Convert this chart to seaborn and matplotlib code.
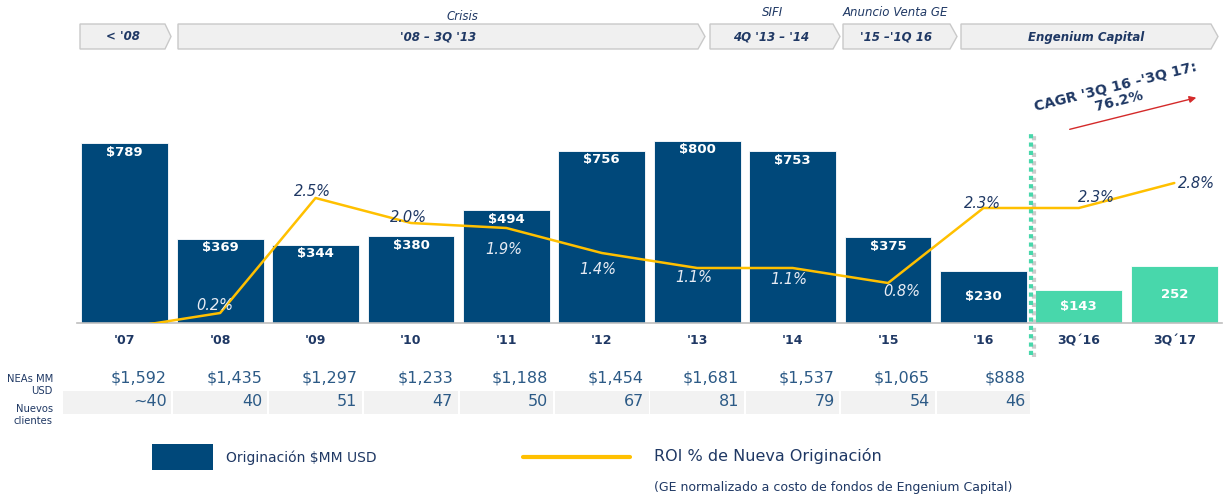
import numpy as np
import pandas as pd
import seaborn as sns
import matplotlib.pyplot as plt
from matplotlib.patches import Polygon, Rectangle, FancyArrowPatch
from matplotlib.lines import Line2D
from matplotlib.transforms import blended_transform_factory

# ---- data ----
periodos = ["'07", "'08", "'09", "'10", "'11", "'12", "'13", "'14", "'15", "'16", "3Q´16", "3Q´17"]
originacion = [789, 369, 344, 380, 494, 756, 800, 753, 375, 230, 143, 252]
etiquetas_orig = ["$789", "$369", "$344", "$380", "$494", "$756", "$800", "$753", "$375", "$230", "$143", "252"]
roi = [-0.1, 0.2, 2.5, 2.0, 1.9, 1.4, 1.1, 1.1, 0.8, 2.3, 2.3, 2.8]
etiquetas_roi = [None, "0.2%", "2.5%", "2.0%", "1.9%", "1.4%", "1.1%", "1.1%", "0.8%", "2.3%", "2.3%", "2.8%"]
neas = ["$1,592", "$1,435", "$1,297", "$1,233", "$1,188", "$1,454", "$1,681", "$1,537", "$1,065", "$888"]
clientes = ["~40", "40", "51", "47", "50", "67", "81", "79", "54", "46"]
etapas = ["< '08", "'08 – 3Q '13", "4Q '13 – '14", "'15 –'1Q 16", "Engenium Capital"]
etapas_titulo = ["", "Crisis", "SIFI", "Anuncio Venta GE", ""]

NAVY = "#00487a"
TEAL = "#48d7ab"
GOLD = "#ffc000"
TXT = "#1f3864"
TBL = "#2c5a86"

sns.set_style("white")
plt.rcParams['font.family'] = ['DejaVu Sans']
plt.rcParams['text.parse_math'] = False

W, H = 1226, 497
fig = plt.figure(figsize=(W / 100, H / 100), dpi=100)

def fx(px):
    return px / W

def fy(py):
    return 1 - py / H

ax = fig.add_axes([fx(77), fy(323), fx(1222) - fx(77), fy(60) - fy(323)])

df = pd.DataFrame({"periodo": periodos, "orig": originacion})
colores = [NAVY] * 10 + [TEAL] * 2
sns.barplot(data=df, x="periodo", y="orig", hue="periodo", palette=colores,
            legend=False, width=0.91, saturation=1, ax=ax,
            edgecolor="white", linewidth=0.6)
ax.set_xlim(-0.5, 11.5)
ax.set_ylim(0, 1153)
ax.set_xlabel("")
ax.set_ylabel("")
ax.set_yticks([])
for s in ["top", "right", "left"]:
    ax.spines[s].set_visible(False)
ax.spines["bottom"].set_color("#bfbfbf")
ax.spines["bottom"].set_linewidth(1.2)
ax.set_xticks(range(len(periodos)))
ax.set_xticklabels(periodos, fontsize=9, fontweight="bold", color=TXT)
ax.set_xticks(np.arange(-0.5, 12, 1), minor=True)
ax.tick_params(axis="x", which="major", length=0, pad=8)
ax.tick_params(axis="x", which="minor", length=4, color="#bfbfbf", width=1.2)

# bar value labels
for i, (v, lab) in enumerate(zip(originacion, etiquetas_orig)):
    if v < 300:
        ax.text(i, v / 2, lab, ha="center", va="center", color="white",
                fontsize=9.5, fontweight="bold")
    else:
        ax.annotate(lab, (i, v), xytext=(0, -9), textcoords="offset pixels",
                    ha="center", va="center", color="white", fontsize=9.5, fontweight="bold")

# ROI line
ax2 = ax.twinx()
sns.lineplot(x=np.arange(len(roi)), y=roi, ax=ax2, color=GOLD, linewidth=1.8)
ax2.set_ylim(0, 5.26)
ax2.set_xlim(-0.5, 11.5)
ax2.axis("off")

desp = [(0, 0), (-5, 8), (-3, 7), (-3, 6), (-3, -21), (-4, -16), (-3, -9),
        (-4, -12), (14, -8), (-1, 4), (18, 11), (22, 0)]
for i, (v, lab) in enumerate(zip(roi, etiquetas_roi)):
    if lab is None:
        continue
    claro = lab in ("0.2%", "1.9%", "1.4%", "1.1%", "0.8%")
    ax2.annotate(lab, (i, v), xytext=desp[i], textcoords="offset pixels",
                 ha="center", va="center", fontsize=10.5, style="italic",
                 color="#e8ecf4" if claro else TXT)

# divider between years and quarters
tr = blended_transform_factory(ax.transData, fig.transFigure)
ax.add_line(Line2D([9.53, 9.53], [fy(357), fy(134)], transform=tr, color="#cccccc",
                   linewidth=3, linestyle=(0, (1, 1)), clip_on=False, zorder=4))
ax.add_line(Line2D([9.5, 9.5], [fy(355), fy(132)], transform=tr, color=TEAL,
                   linewidth=3, linestyle=(0, (1, 1)), clip_on=False, zorder=5))

# table below the axis
for i in range(len(neas)):
    ax.text(i + 0.44, fy(378), neas[i], transform=tr, ha="right", va="center",
            fontsize=11.5, color=TBL)
    izq = i - 0.5 if i > 0 else -0.66
    ax.add_patch(Rectangle((izq + 0.01, fy(414)), (i + 0.5) - izq - 0.02, fy(391) - fy(414),
                           transform=tr, facecolor="#f2f2f2", edgecolor="none",
                           clip_on=False, zorder=0))
    ax.text(i + 0.44, fy(402), clientes[i], transform=tr, ha="right", va="center",
            fontsize=11.5, color=TBL)
fig.text(fx(53), fy(385), "NEAs MM\nUSD", ha="right", va="center", fontsize=7.2,
         color=TXT, linespacing=1.25)
fig.text(fx(53), fy(415), "Nuevos\nclientes", ha="right", va="center", fontsize=7.2,
         color=TXT, linespacing=1.25)

# top banners (chevrons)
cajas = [(80, 165, 171), (178, 698, 705), (710, 833, 840), (843, 950, 957), (961, 1211, 1218)]
titulo_x = [None, 462, 773, 895, None]
for (x0, x1, xt), lab, tit, tx in zip(cajas, etapas, etapas_titulo, titulo_x):
    pts = [(fx(x0), fy(24)), (fx(x1), fy(24)), (fx(xt), fy(36.5)),
           (fx(x1), fy(49)), (fx(x0), fy(49))]
    fig.add_artist(Polygon(pts, closed=True, transform=fig.transFigure,
                           facecolor="#f0f0f0", edgecolor="#c9c9c9", linewidth=1))
    fig.text(fx((x0 + x1) / 2), fy(37), lab, ha="center", va="center", fontsize=8.5,
             fontweight="bold", style="italic", color=TXT)
    if tit:
        fig.text(fx(tx), fy(17 if tit == "Crisis" else 12), tit, ha="center", va="center",
                 fontsize=8.5, style="italic", color=TXT)

# CAGR callout
fig.text(fx(1117), fy(94), "CAGR '3Q 16 -'3Q 17:\n76.2%", ha="center", va="center",
         rotation=14, fontsize=10.2, fontweight="bold", color=TXT, linespacing=1.0)
fig.add_artist(FancyArrowPatch(
    (fx(1067), fy(130)), (fx(1199), fy(97)), transform=fig.transFigure,
    arrowstyle="-|>", mutation_scale=10, color="#d42a2a", linewidth=1))

# legend
fig.add_artist(Rectangle((fx(152), fy(470)), fx(213) - fx(152), fy(444) - fy(470),
                         transform=fig.transFigure, facecolor=NAVY, edgecolor="none"))
fig.text(fx(226), fy(458), "Originación $MM USD", ha="left", va="center",
         fontsize=10, color=TXT)
fig.add_artist(Line2D([fx(523), fx(630)], [fy(457), fy(457)], transform=fig.transFigure,
                      color=GOLD, linewidth=3))
fig.text(fx(654), fy(456), "ROI % de Nueva Originación", ha="left", va="center",
         fontsize=11.5, color=TXT)
fig.text(fx(654), fy(488), "(GE normalizado a costo de fondos de Engenium Capital)",
         ha="left", va="center", fontsize=9, color=TXT)

fig.savefig("out.png", dpi=100)
